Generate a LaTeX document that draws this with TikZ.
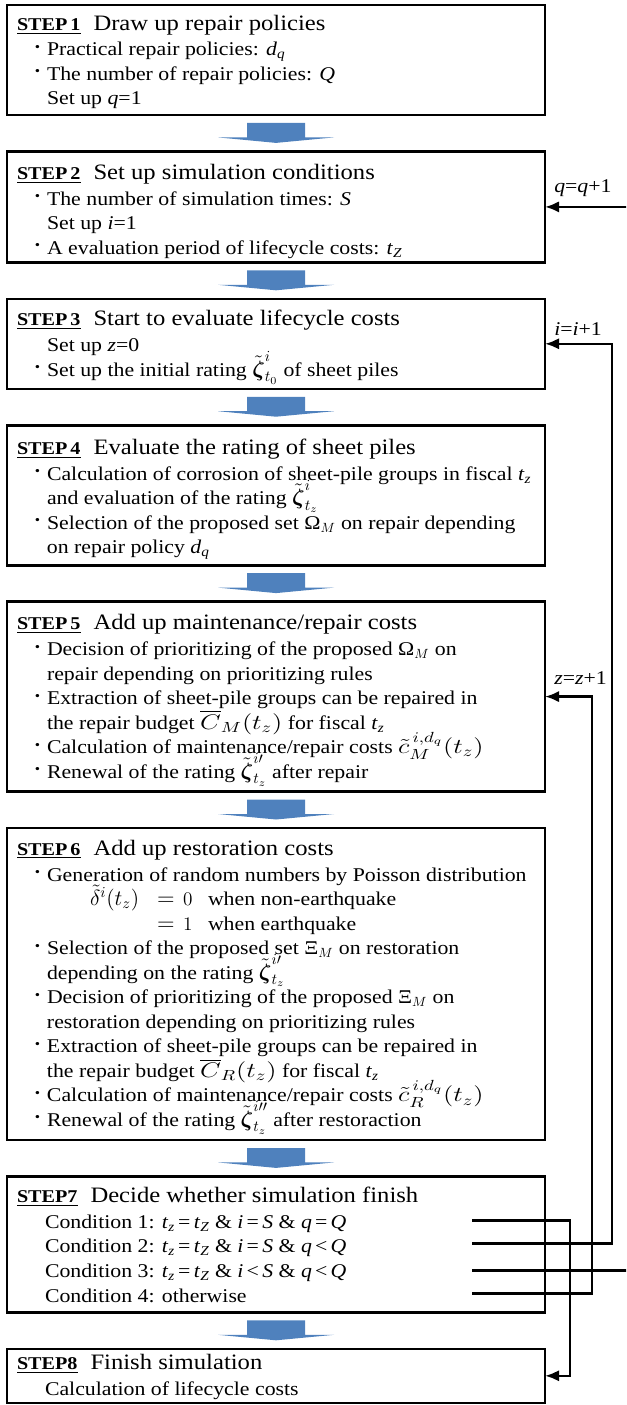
\documentclass[tikz,border=0pt]{standalone}
\usepackage{amsmath}
\usepackage{graphicx}
\usepackage[no-math]{fontspec}
\setmainfont{Liberation Serif}[FakeStretch=1.12]
\usetikzlibrary{positioning,calc,arrows.meta}

\definecolor{flowblue}{RGB}{79,129,189}
\newdimen\pxu
\pxu=0.75pt

\newcommand\itm{\hspace*{11\pxu}\makebox[19\pxu]{\raisebox{2.5\pxu}{\bfseries ·}}}
\newcommand\ind{\hspace*{30\pxu}}
\newcommand\tsub[2]{\textit{#1}\textsubscript{\textit{#2}}}
\newcommand\rating[2]{\scalebox{1.15}{$\tilde{\boldsymbol{\zeta}}^{#1}_{#2}$}}
\newcommand\wide[1]{\scalebox{1.4}[1.1]{$#1$}}
\newcommand\stephead[2]{\underline{\fontsize{13.5}{16}\selectfont\bfseries #1}\hspace{13\pxu}{\fontsize{16.5}{18}\selectfont #2}}
\newcommand\stepbody[3]{\parbox[c][#1\pxu][t]{518\pxu}{\raggedright\fontsize{14.6}{18.4}\selectfont\lineskiplimit=-\maxdimen\rule{0pt}{#2\pxu}#3}}
\newcommand\flowarrow[2]{\fill[flowblue] ($(#1.south)+(-29,8)$) -- ($(#1.south)+(29,8)$) -- ($(#2.north)+(29,-14)$) -- ($(#2.north)+(58,-14)$) -- ($(#2.north)+(0,-8.5)$) -- ($(#2.north)+(-58,-14)$) -- ($(#2.north)+(-29,-14)$) -- cycle;}

\tikzset{
  stepbox/.style={draw, line width=1.95pt, inner sep=0pt, outer sep=0pt, minimum width=538\pxu},
  feedback/.style={line width=1.95pt, -{Latex[length=10.5pt,width=8.5pt]}},
  looplabel/.style={anchor=base west, inner sep=0pt, font=\fontsize{14.6}{18}\selectfont}
}

\begin{document}
\begin{tikzpicture}[x=0.75pt, y=-0.75pt, node distance=36.4\pxu]
  \useasboundingbox (0,0) rectangle (626,1405);
  \clip (0,0) rectangle (626,1405);
  % Steps
  \node[stepbox, anchor=north west] (s1) at (7,5) {\stepbody{110}{26}{%
    \stephead{STEP\,1}{Draw up repair policies}\\
    \itm Practical repair policies: \tsub{d}{q}\\
    \itm The number of repair policies: \textit{Q}\\
    \ind Set up \textit{q}=1}};
  \node[stepbox, below=of s1] (s2) {\stepbody{111}{28}{%
    \stephead{STEP\,2}{Set up simulation conditions}\\[1.5\pxu]
    \itm The number of simulation times: \textit{S}\\
    \ind Set up \textit{i}=1\\
    \itm A evaluation period of lifecycle costs: \tsub{t}{Z}}};
  \node[stepbox, below=of s2] (s3) {\stepbody{90}{27}{%
    \stephead{STEP\,3}{Start to evaluate lifecycle costs}\\[1.5\pxu]
    \ind Set up \textit{z}=0\\
    \itm Set up the initial rating \rating{i}{t_0} of sheet piles}};
  \node[stepbox, below=of s3] (s4) {\stepbody{140}{29}{%
    \stephead{STEP\,4}{Evaluate the rating of sheet piles}\\[1.5\pxu]
    \itm Calculation of corrosion of sheet-pile groups in fiscal \tsub{t}{z}\\
    \ind and evaluation of the rating \rating{i}{t_z}\\
    \itm Selection of the proposed set Ω$_{M}$ on repair depending\\
    \ind on repair policy \tsub{d}{q}}};
  \node[stepbox, below=of s4] (s5) {\stepbody{190}{28}{%
    \stephead{STEP\,5}{Add up maintenance/repair costs}\\[1.5\pxu]
    \itm Decision of prioritizing of the proposed Ω$_{M}$ on\\
    \ind repair depending on prioritizing rules\\
    \itm Extraction of sheet-pile groups can be repaired in\\
    \ind the repair budget \wide{\overline{C}_{M}(t_z)} for fiscal \tsub{t}{z}\\
    \itm Calculation of maintenance/repair costs \wide{\tilde{c}^{\,i,d_q}_{M}(t_z)}\\
    \itm Renewal of the rating \rating{i\prime}{t_z} after repair}};
  \node[stepbox, below=of s5] (s6) {\stepbody{312}{27}{%
    \stephead{STEP\,6}{Add up restoration costs}\\[1.5\pxu]
    \itm Generation of random numbers by Poisson distribution\\
    \hspace*{73\pxu}\makebox[67\pxu][l]{\scalebox{1.14}{$\tilde{\delta}^{i}(t_z)$}}\makebox[26\pxu][l]{\scalebox{1.2}{$=$}}\makebox[25\pxu][l]{$0$}when non-earthquake\\
    \hspace*{140\pxu}\makebox[26\pxu][l]{\scalebox{1.2}{$=$}}\makebox[25\pxu][l]{$1$}when earthquake\\
    \itm Selection of the proposed set Ξ$_{M}$ on restoration\\
    \ind depending on the rating \rating{i\prime}{t_z}\\
    \itm Decision of prioritizing of the proposed Ξ$_{M}$ on\\
    \ind restoration depending on prioritizing rules\\
    \itm Extraction of sheet-pile groups can be repaired in\\
    \ind the repair budget \wide{\overline{C}_{R}(t_z)} for fiscal \tsub{t}{z}\\
    \itm Calculation of maintenance/repair costs \wide{\tilde{c}^{\,i,d_q}_{R}(t_z)}\\
    \itm Renewal of the rating \rating{i\prime\prime}{t_z} after restoraction}};
  \node[stepbox, below=of s6] (s7) {\stepbody{136}{26}{%
    \stephead{STEP7}{Decide whether simulation finish}\\[1.5\pxu]
    \hspace*{28\pxu}Condition 1: \tsub{t}{z}\,=\,\tsub{t}{Z} \& \textit{i}\,=\,\textit{S} \& \textit{q}\,=\,\textit{Q}\\
    \hspace*{28\pxu}Condition 2: \tsub{t}{z}\,=\,\tsub{t}{Z} \& \textit{i}\,=\,\textit{S} \& \textit{q}\,<\,\textit{Q}\\
    \hspace*{28\pxu}Condition 3: \tsub{t}{z}\,=\,\tsub{t}{Z} \& \textit{i}\,<\,\textit{S} \& \textit{q}\,<\,\textit{Q}\\
    \hspace*{28\pxu}Condition 4: otherwise}};
  \node[stepbox, below=of s7] (s8) {\stepbody{54}{21}{%
    \stephead{STEP8}{Finish simulation}\\[1.5\pxu]
    \hspace*{28\pxu}Calculation of lifecycle costs}};
  % Flow
  \flowarrow{s1}{s2}
  \flowarrow{s2}{s3}
  \flowarrow{s3}{s4}
  \flowarrow{s4}{s5}
  \flowarrow{s5}{s6}
  \flowarrow{s6}{s7}
  \flowarrow{s7}{s8}
  % Conditions
  \coordinate (c1) at ($(s7.north west)+(465,44)$);
  \coordinate (c2) at ($(s7.north west)+(465,67)$);
  \coordinate (c3) at ($(s7.north west)+(465,94)$);
  \coordinate (c4) at ($(s7.north west)+(465,117)$);
  \draw[feedback] (c1) -| ($(s8.east)+(25,0)$) -- (s8.east);
  \draw[feedback] (c2) -| ($(s3.east)+(67,0)$) -- (s3.east);
  \draw[feedback] (c3) -| ($(s2.east)+(100,0)$) -- (s2.east);
  \draw[feedback] (c4) -| ($(s5.east)+(47,0)$) -- (s5.east);
  \node[looplabel] (lq) at ($(s2.east)+(9,-14)$) {\textit{q}=\textit{q}+1};
  \node[looplabel] (li) at ($(s3.east)+(9,-8)$) {\textit{i}=\textit{i}+1};
  \node[looplabel] (lz) at ($(s5.east)+(9,-12)$) {\textit{z}=\textit{z}+1};
\end{tikzpicture}
\end{document}
